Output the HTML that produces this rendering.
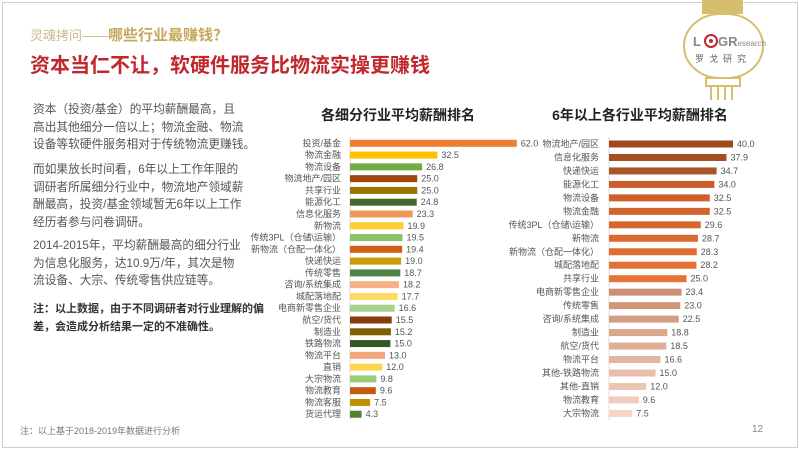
<!DOCTYPE html>
<html><head><meta charset="utf-8"><style>
html,body{margin:0;padding:0;background:#fff;}
body{width:799px;height:450px;overflow:hidden;position:relative;font-family:"Liberation Sans","Noto Sans CJK SC",sans-serif;}
.frame{position:absolute;left:2px;top:2px;width:794px;height:444px;border:1px solid #cfcfcf;}
.t1{position:absolute;left:30px;top:24px;font-size:13px;color:#c9b98a;white-space:nowrap;}
.t1 b{color:#c6a85a;font-size:15px;}
.t2{position:absolute;left:30px;top:49px;font-size:20px;font-weight:bold;color:#c0282d;white-space:nowrap;}
.p{position:absolute;left:33px;font-size:11.7px;line-height:17.6px;color:#555;white-space:nowrap;}
.n{position:absolute;left:33px;top:301px;font-size:11px;line-height:17.5px;color:#333;font-weight:bold;white-space:nowrap;}
.foot{position:absolute;left:20px;top:424px;font-size:9px;color:#777;}
.pg{position:absolute;left:752px;top:424px;font-size:10px;color:#888;}
svg{position:absolute;left:0;top:0;}
</style></head><body>
<div class="frame"></div>
<div class="t1">灵魂拷问——<b>哪些行业最赚钱？</b></div>
<div class="t2">资本当仁不让，软硬件服务比物流实操更赚钱</div>
<div class="p" style="top:101px">资本（投资/基金）的平均薪酬最高，且<br>高出其他细分一倍以上；物流金融、物流<br>设备等软硬件服务相对于传统物流更赚钱。</div>
<div class="p" style="top:161px">而如果放长时间看，6年以上工作年限的<br>调研者所属细分行业中，物流地产领域薪<br>酬最高，投资/基金领域暂无6年以上工作<br>经历者参与问卷调研。</div>
<div class="p" style="top:237px">2014-2015年，平均薪酬最高的细分行业<br>为信息化服务，达10.9万/年，其次是物<br>流设备、大宗、传统零售供应链等。</div>
<div class="n">注：以上数据，由于不同调研者对行业理解的偏<br>差，会造成分析结果一定的不准确性。</div>
<div class="foot">注：以上基于2018-2019年数据进行分析</div>
<div class="pg">12</div>
<svg width="799" height="450" id="s" font-family="Liberation Sans, Noto Sans CJK SC, sans-serif">
<g fill="none" stroke="#d7bd6e" stroke-width="2">
<rect x="703" y="0" width="39" height="13" fill="#d7bd6e"/>
<rect x="684" y="14" width="79" height="64" rx="36" ry="32" fill="#fff"/>
<rect x="706" y="78" width="34" height="8"/>
<path d="M711 86v14M718 86v14M725 86v14M732 86v14"/>
</g>
<text x="693" y="46" font-size="13" font-weight="bold" fill="#888">L</text>
<circle cx="711" cy="41" r="6" fill="none" stroke="#c0282d" stroke-width="2"/>
<circle cx="711" cy="41" r="2" fill="#c0282d"/>
<text x="718" y="46" font-size="13" font-weight="bold" fill="#888">GR<tspan font-size="8" font-weight="normal">esearch</tspan></text>
<text x="723" y="62" font-size="9" fill="#666" text-anchor="middle" letter-spacing="5">罗戈研究</text>
<text x="398" y="120" font-size="14" font-weight="bold" fill="#222" text-anchor="middle">各细分行业平均薪酬排名</text>
<text x="640" y="120" font-size="14" font-weight="bold" fill="#222" text-anchor="middle">6年以上各行业平均薪酬排名</text>
<g id="L"></g><g id="R"></g>
</svg>
<script>
var ns="http://www.w3.org/2000/svg";
function el(g,t,a,txt){var e=document.createElementNS(ns,t);for(var k in a)e.setAttribute(k,a[k]);if(txt)e.textContent=txt;g.appendChild(e);}
var L=[["投资/基金",62.0,"#ED7D31"],["物流金融",32.5,"#FFC000"],["物流设备",26.8,"#70AD47"],["物流地产/园区",25.0,"#9E480E"],["共享行业",25.0,"#997300"],["能源化工",24.8,"#43682B"],["信息化服务",23.3,"#F1975A"],["新物流",19.9,"#FFCD33"],["传统3PL（仓储\\运输）",19.5,"#8CC168"],["新物流（仓配一体化）",19.4,"#D26012"],["快递快运",19.0,"#CC9A06"],["传统零售",18.7,"#4E8542"],["咨询/系统集成",18.2,"#F4B183"],["城配落地配",17.7,"#FFD966"],["电商新零售企业",16.6,"#A9D18E"],["航空/货代",15.5,"#843C0C"],["制造业",15.2,"#7F6000"],["铁路物流",15.0,"#375623"],["物流平台",13.0,"#F4A57A"],["直销",12.0,"#FFD54F"],["大宗物流",9.8,"#9BCB78"],["物流教育",9.6,"#C55A11"],["物流客服",7.5,"#BF9000"],["货运代理",4.3,"#538135"]];
var g=document.getElementById("L");
el(g,"line",{x1:350,y1:137,x2:350,y2:420,stroke:"#ddd","stroke-width":1});
L.forEach(function(d,i){var y=143.3+i*11.78;var w=d[1]*2.69;
el(g,"rect",{x:350,y:y-3.5,width:w,height:7,fill:d[2]});
el(g,"text",{x:341,y:y+3,"font-size":9,fill:"#555","text-anchor":"end"},d[0]);
el(g,"text",{x:354+w,y:y+3,"font-size":9,fill:"#555"},d[1].toFixed(1));});
var R=[["物流地产/园区",40.0],["信息化服务",37.9],["快递快运",34.7],["能源化工",34.0],["物流设备",32.5],["物流金融",32.5],["传统3PL（仓储\\运输）",29.6],["新物流",28.7],["新物流（仓配一体化）",28.3],["城配落地配",28.2],["共享行业",25.0],["电商新零售企业",23.4],["传统零售",23.0],["咨询/系统集成",22.5],["制造业",18.8],["航空/货代",18.5],["物流平台",16.6],["其他-铁路物流",15.0],["其他-直销",12.0],["物流教育",9.6],["大宗物流",7.5]];
var c0=[160,72,26],c1=[246,212,198];
g=document.getElementById("R");
el(g,"line",{x1:609,y1:137,x2:609,y2:420,stroke:"#ddd","stroke-width":1});
R.forEach(function(d,i){var y=144+i*13.47;var w=d[1]*3.1;var t;
if(i<10)t=i/10*0.45;else t=0.45+(i-10)/10*0.55;
var c="rgb("+c0.map(function(v,k){return Math.round(v+(c1[k]-v)*t)}).join(",")+")";
if(i>=3&&i<11){c="rgb("+[Math.round(190+i*4),Math.round(85+i*3),Math.round(35+i*2)].join(",")+")";}
el(g,"rect",{x:609,y:y-3.5,width:w,height:7,fill:c});
el(g,"text",{x:599,y:y+3,"font-size":9,fill:"#555","text-anchor":"end"},d[0]);
el(g,"text",{x:613+w,y:y+3,"font-size":9,fill:"#555"},d[1].toFixed(1));});
</script>
</body></html>
